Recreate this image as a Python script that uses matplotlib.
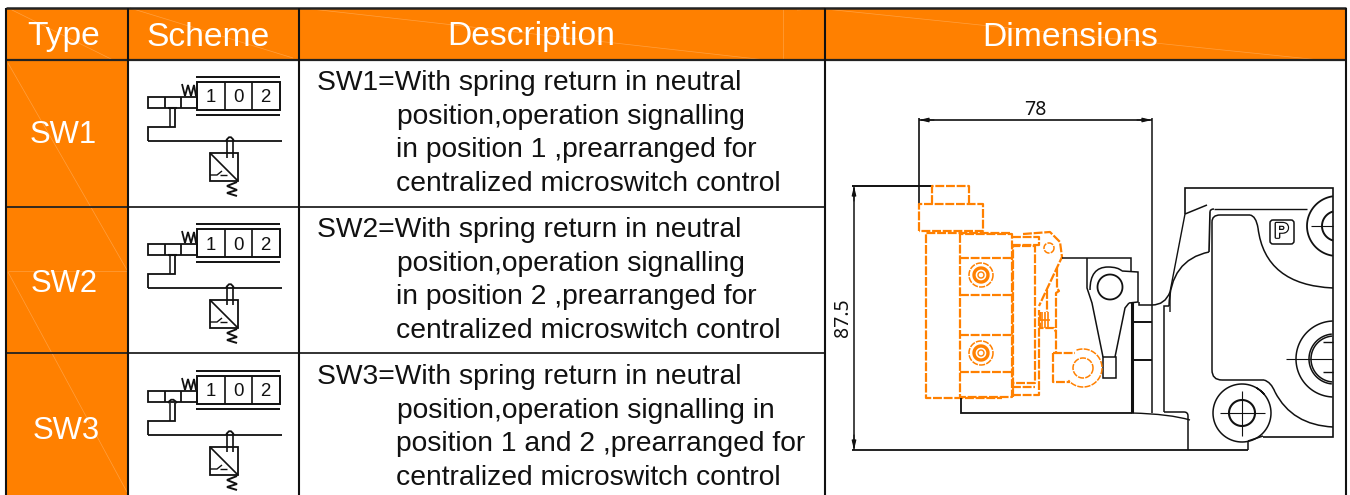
import numpy as np
import matplotlib
matplotlib.use('Agg')
import matplotlib.pyplot as plt
import matplotlib.patheffects as pe
from matplotlib.path import Path
from matplotlib.patches import PathPatch, Rectangle, FancyBboxPatch

# 표 내용
headers = ['Type', 'Scheme', 'Description', 'Dimensions']
header_x = [64, 208.5, 531, 1070]
types = ['SW1', 'SW2', 'SW3']
type_x = [63, 64, 66]
type_y = [135, 284, 431]
digits = ['1', '0', '2']
descriptions = [
    ['SW1=With spring return in neutral', 'position,operation signalling',
     'in position 1 ,prearranged for', 'centralized microswitch control'],
    ['SW2=With spring return in neutral', 'position,operation signalling',
     'in position 2 ,prearranged for', 'centralized microswitch control'],
    ['SW3=With spring return in neutral', 'position,operation signalling in',
     'position 1 and 2 ,prearranged for', 'centralized microswitch control'],
]
desc_x = [317, 397, 396, 396]
dim_width = '78'
dim_height = '87.5'

col_x = [6, 128, 298.5, 825, 1346]
row_y = [7.5, 60, 206.5, 353, 495]
scheme_dy = [0, 147, 294]

ORANGE = '#FF8000'
BLACK = '#111111'

plt.rcParams['font.family'] = ['Liberation Sans', 'DejaVu Sans']

fig = plt.figure(figsize=(13.5, 4.95), dpi=100)
ax = fig.add_axes([0, 0, 1, 1])
ax.set_xlim(0, 1350)
ax.set_ylim(495, 0)
ax.axis('off')


def line(pts, lw=1.1, color=BLACK, **kw):
    xs = [p[0] for p in pts]
    ys = [p[1] for p in pts]
    ax.plot(xs, ys, color=color, lw=lw, solid_capstyle='butt', solid_joinstyle='miter', **kw)


def dash(pts, lw=1.6):
    xs = [p[0] for p in pts]
    ys = [p[1] for p in pts]
    ax.plot(xs, ys, color=ORANGE, lw=lw, dashes=(4, 0.8), dash_capstyle='butt')


def curve(pts, lw=1.1, color=BLACK):
    # 점 3개씩 2차 베지어로 연결
    codes = [Path.MOVETO] + [Path.CURVE3] * (len(pts) - 1)
    ax.add_patch(PathPatch(Path(pts, codes), fc='none', ec=color, lw=lw))


def arc(cx, cy, r, a0=0, a1=360, lw=1.1, color=BLACK, dashed=False):
    t = np.radians(np.linspace(a0, a1, 90))
    pts = list(zip(cx + r * np.cos(t), cy + r * np.sin(t)))
    if dashed:
        dash(pts, lw)
    else:
        line(pts, lw, color)


def arrow(tip, tail):
    ax.annotate('', xy=tip, xytext=tail,
                arrowprops=dict(arrowstyle='-|>,head_length=0.55,head_width=0.13', color=BLACK, lw=0.8, shrinkA=0, shrinkB=0))


# 주황색 셀
ax.add_patch(Rectangle((col_x[0], row_y[0]), col_x[4] - col_x[0], row_y[1] - row_y[0], fc=ORANGE, ec='none'))
ax.add_patch(Rectangle((col_x[0], row_y[1]), col_x[1] - col_x[0], row_y[4] - row_y[1], fc=ORANGE, ec='none'))

# 희미한 대각선
faint = [[(8, 8), (113, 60)], [(130, 8), (293, 58)], [(311, 9), (766, 60)], [(797, 10), (825, 8)],
         [(825, 9), (1320, 60)], [(8, 63), (127, 270)], [(8, 272), (127, 492)], [(8, 271), (127, 271)],
         [(783, 9), (783, 60)]]
for seg in faint:
    line(seg, lw=0.5, color='#FFA040')

# 표 선
line([(col_x[0], row_y[0]), (col_x[4], row_y[0])], lw=1.8, color='#222222')
line([(col_x[0], row_y[1]), (col_x[4], row_y[1])], lw=1.6, color='#222222')
line([(col_x[0], row_y[2]), (col_x[3], row_y[2])], lw=1.3, color='#222222')
line([(col_x[0], row_y[3]), (col_x[3], row_y[3])], lw=1.3, color='#222222')
for x in col_x:
    line([(x, row_y[0]), (x, row_y[4])], lw=1.5)

for x, s in zip(header_x, headers):
    ax.text(x, 37, s, color='white', fontsize=24.2, ha='center', va='center')
for x, y, s in zip(type_x, type_y, types):
    ax.text(x, y, s, color='white', fontsize=22.3, ha='center', va='center')

for i, block in enumerate(descriptions):
    for j, s in enumerate(block):
        y = 90 + scheme_dy[i] + j * 33.7
        ax.text(desc_x[j], y, s, color=BLACK, fontsize=20.35, ha='left', va='baseline')

# 회로 기호
for k, dy in enumerate(scheme_dy):
    line([(196, 77 + dy), (280, 77 + dy)], lw=1.4)
    line([(196, 115 + dy), (280, 115 + dy)], lw=1.4)
    ax.add_patch(Rectangle((197, 82 + dy), 83, 28, fc='none', ec=BLACK, lw=1.4))
    for x in [225, 252]:
        line([(x, 82 + dy), (x, 110 + dy)], lw=1.2)
    for x, s in zip([210.5, 238, 265], digits):
        ax.text(x, 98 + dy, s, color=BLACK, fontsize=13.4, ha='center', va='center')
    ax.add_patch(Rectangle((148, 97 + dy), 49, 11, fc='none', ec=BLACK, lw=1.3))
    for x in [165, 181]:
        line([(x, 97 + dy), (x, 108 + dy)], lw=1.3)
    line([(182, 84 + dy), (185, 96 + dy), (188, 85 + dy), (191, 96 + dy), (194, 85 + dy), (196, 96 + dy)], lw=1.3)
    line([(148, 141 + dy), (282, 141 + dy)], lw=1.3)
    line([(148, 141 + dy), (148, 127 + dy), (175, 127 + dy), (175, 109 + dy)], lw=1.3)
    line([(170, 127 + dy), (170, 109 + dy)], lw=1.1)
    if k == 2:
        curve([(168, 109 + dy), (172, 102 + dy), (177, 109 + dy)], lw=1.3)
    else:
        line([(168, 108 + dy), (177, 108 + dy)], lw=1.5)
    line([(227, 139 + dy), (227, 158 + dy)], lw=1.2)
    line([(233, 139 + dy), (233, 158 + dy)], lw=1.2)
    curve([(226, 141 + dy), (230, 133 + dy), (234, 141 + dy)], lw=1.3)
    ax.add_patch(Rectangle((210, 153 + dy), 28, 28, fc='none', ec=BLACK, lw=1.3))
    line([(210, 153 + dy), (238, 181 + dy)], lw=1.2)
    line([(210, 175 + dy), (217, 175 + dy), (222, 171 + dy)], lw=1)
    line([(220, 175 + dy), (227, 175 + dy)], lw=1)
    line([(237, 182 + dy), (227, 186 + dy), (237, 190 + dy), (227, 193 + dy), (237, 196 + dy)], lw=1.4)

# 치수선
line([(919, 118), (919, 205)], lw=1.2)
line([(919, 120), (1152, 120)], lw=1.2)
line([(1152, 118), (1152, 413)], lw=1.1)
line([(852, 186), (933, 186)], lw=1.4)
line([(854, 186), (854, 450)], lw=1.1)
line([(852, 450), (1248, 450)], lw=1.3)
arrow((919, 120), (934, 120))
arrow((1152, 120), (1137, 120))
arrow((854, 186), (854, 201))
arrow((854, 450), (854, 435))
ax.text(1035, 110, dim_width, fontsize=14, color=BLACK, ha='center', va='center', family=['Noto Sans', 'DejaVu Sans'])
ax.text(843, 318, dim_height, fontsize=14, color=BLACK, ha='center', va='center', rotation=90, family=['Noto Sans', 'DejaVu Sans'])

# 주황색 점선 부분
dash([(932, 204), (932, 186), (969, 186), (969, 204)])
dash([(919, 231), (919, 204), (983, 204), (983, 231), (919, 231)])
dash([(1010, 233), (926, 233), (926, 398), (1002, 398)])
dash([(960, 234), (960, 397), (1012, 397), (1012, 234), (960, 234)])
for y in [258, 295, 335, 372]:
    dash([(960, y), (1012, y)])
for cy, r in [(275, 12), (353, 12)]:
    arc(981, cy, r, dashed=True)
    arc(981, cy, 7, lw=2.4, color=ORANGE)
    arc(981, cy, 3, lw=1, color=ORANGE)
dash([(1013, 397), (1013, 246), (1035, 246), (1035, 383), (1013, 383)])
dash([(1012, 387), (1035, 387)])
dash([(1012, 237), (1039, 237), (1039, 245), (1012, 245)])
dash([(1012, 395), (1039, 395), (1039, 310)])
dash([(1023, 234), (1050, 232), (1060, 242), (1062, 257), (1039, 306)])
arc(1049, 248, 5, dashed=True)
dash([(1057, 268), (1057, 288), (1059, 291), (1056, 293), (1056, 353)])
dash([(1047, 290), (1047, 312)])
dash([(1040, 312), (1040, 328), (1054, 328), (1056, 332)])
for x in [1042, 1045, 1048]:
    line([(x, 312), (x, 328)], lw=1.2, color=ORANGE)
line([(1040, 320), (1050, 320)], lw=1.2, color=ORANGE)
dash([(1053, 353), (1075, 353)])
dash([(1053, 353), (1053, 382), (1070, 382)])
arc(1083, 368, 19, a0=-110, a1=140, dashed=True)
arc(1083, 368, 10, dashed=True)

# 레버
line([(1062, 258), (1131, 258), (1131, 272)])
line([(1087, 258), (1087, 288), (1092, 303), (1103, 357)])
curve([(1090, 290), (1090, 267), (1108, 267)], lw=1.1)
curve([(1108, 267), (1118, 267), (1122, 271)], lw=1.1)
line([(1122, 271), (1138, 272), (1138, 302), (1129, 303)])
line([(1129, 303), (1125, 308), (1115, 357)])
arc(1110, 287, 12.5, lw=1.3)
ax.add_patch(Rectangle((1103, 357), 13, 21, fc='none', ec=BLACK, lw=1.1))

# 본체
line([(961, 398), (961, 413), (1132, 413)], lw=1.3)
line([(1132, 302), (1132, 413)], lw=2.2)
line([(1139, 302), (1139, 305), (1152, 305)], lw=1.1)
line([(1132, 322), (1152, 322)], lw=1.4)
line([(1132, 360), (1152, 360)], lw=1.4)
line([(1164, 412), (1164, 306), (1169, 306)], lw=1.1)
curve([(1152, 305), (1165, 305), (1170, 292)], lw=1.1)
line([(1185, 214), (1207, 205)], lw=1.1)
line([(1185, 214), (1185, 188), (1333, 188), (1333, 437), (1263, 437)], lw=1.2)
line([(1185, 214), (1170, 292), (1170, 312)], lw=1)
curve([(1169, 306), (1170, 260), (1209, 252)], lw=1.1)
line([(1209, 252), (1210, 212)], lw=1.2)
curve([(1210, 212), (1210, 209), (1214, 209)], lw=1.1)
line([(1214, 209), (1307, 209)], lw=1)
line([(1212, 222), (1212, 370)], lw=1.1)
curve([(1212, 222), (1212, 215), (1220, 215)], lw=1.1)
line([(1220, 215), (1250, 215)], lw=1.1)
curve([(1250, 215), (1256, 216), (1258, 228)], lw=1.1)
curve([(1258, 228), (1265, 285), (1333, 288)], lw=1.1)
curve([(1212, 370), (1212, 380), (1222, 380)], lw=1.1)
line([(1222, 380), (1264, 380)], lw=1.1)
curve([(1264, 380), (1271, 382), (1275, 392)], lw=1.1)
curve([(1275, 392), (1292, 425), (1333, 427)], lw=1.1)
line([(1164, 412), (1184, 412)], lw=1.1)
curve([(1184, 412), (1188, 412), (1188, 416)], lw=1.1)
line([(1188, 416), (1188, 450)], lw=1.1)
curve([(1132, 413), (1170, 414), (1190, 420)], lw=1)
line([(1248, 450), (1248, 441)], lw=1.1)
curve([(1248, 441), (1254, 439), (1263, 436)], lw=1.1)

# P 표시
ax.add_patch(FancyBboxPatch((1272, 222), 20, 20, boxstyle='round,pad=2,rounding_size=3', fc='none', ec=BLACK, lw=1.1))
ax.text(1281.5, 232, 'P', fontsize=15, color='white', ha='center', va='center', weight='bold',
        path_effects=[pe.withStroke(linewidth=2, foreground=BLACK), pe.Normal()])

# 구멍들
arc(1337, 226, 30, a0=98, a1=262, lw=1.3)
arc(1337, 226, 15, a0=105, a1=255, lw=1.4)
line([(1311, 226), (1333, 226)], lw=0.8)
arc(1334, 359, 38, a0=92, a1=268, lw=1.1)
arc(1334, 359, 25, a0=95, a1=265, lw=1.1)
arc(1334, 359, 23, a0=95, a1=265, lw=1.1)
line([(1286, 359), (1333, 359)], lw=0.8)
line([(1323, 342), (1333, 342)], lw=1)
line([(1323, 372), (1333, 372)], lw=1)
arc(1242, 413, 29, a0=-60, a1=320, lw=1.1)
arc(1242, 413, 13, lw=1.5)
line([(1220, 413), (1265, 413)], lw=0.8)
line([(1242, 391), (1242, 436)], lw=0.8)

fig.savefig('out.png', dpi=100)
